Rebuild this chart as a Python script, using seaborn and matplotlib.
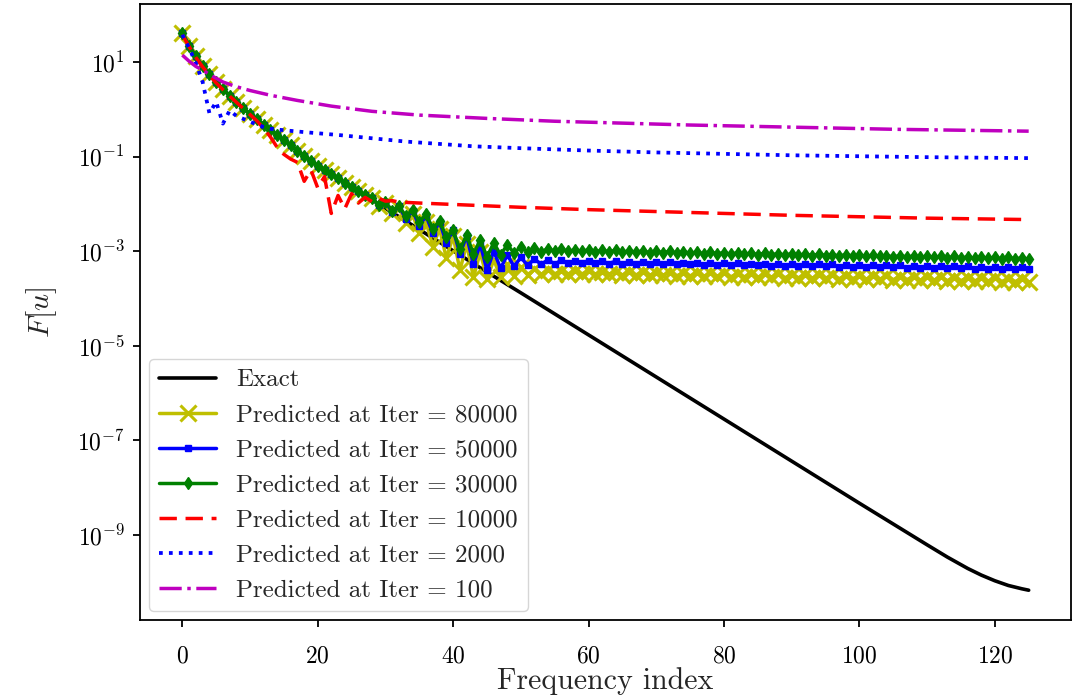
import numpy as np
import matplotlib
matplotlib.use("Agg")
import matplotlib.pyplot as plt
import seaborn as sns
from matplotlib.ticker import NullLocator

# values in decades (log10 of F[u])
idx = list(range(126))

exact_x = [0, 1, 2, 3, 4, 5, 6, 7, 8, 9, 10, 11, 12, 13, 14, 15, 16, 17, 18, 19,
           20, 22, 24, 26, 28, 30, 35, 40, 45, 50, 60, 70, 80, 90, 100, 105, 110,
           113, 116, 118, 120, 122, 124, 125]
exact_log = [1.62, 1.35, 1.12, 0.92, 0.74, 0.58, 0.43, 0.29, 0.16, 0.03, -0.10,
             -0.21, -0.32, -0.43, -0.54, -0.65, -0.76, -0.87, -0.98, -1.09,
             -1.19, -1.37, -1.55, -1.73, -1.91, -2.09, -2.54, -2.99, -3.44, -3.88,
             -4.77, -5.66, -6.55, -7.44, -8.33, -8.77, -9.21, -9.47, -9.71, -9.85,
             -9.97, -10.07, -10.14, -10.17]

head = [1.62, 1.35, 1.12, 0.92, 0.74, 0.58, 0.43, 0.29, 0.16, 0.03,
        -0.10, -0.21, -0.32, -0.43, -0.54, -0.65, -0.76, -0.87, -0.98, -1.09,
        -1.19, -1.28, -1.37, -1.46, -1.55, -1.64, -1.73, -1.82]

it80000_log = head + [
    -1.88, -2.05, -1.97, -2.20, -2.08, -2.40, -2.22, -2.62, -2.38, -2.90,   # 28-37
    -2.52, -3.15, -2.68, -3.40, -2.85, -3.55, -3.02, -3.58, -3.18, -3.55,   # 38-47
    -3.28, -3.52, -3.34, -3.50, -3.38, -3.49, -3.40, -3.48, -3.41, -3.48,   # 48-57
    -3.42, -3.48, -3.42, -3.49, -3.43, -3.49, -3.43, -3.50, -3.44, -3.50,   # 58-67
    -3.44, -3.51, -3.45, -3.51, -3.45, -3.52, -3.46, -3.52, -3.46, -3.53,   # 68-77
    -3.47, -3.53, -3.47, -3.54, -3.48, -3.54, -3.48, -3.55, -3.49, -3.55,   # 78-87
    -3.49, -3.56, -3.50, -3.56, -3.50, -3.57, -3.51, -3.57, -3.51, -3.58,   # 88-97
    -3.52, -3.58, -3.52, -3.59, -3.53, -3.59, -3.53, -3.60, -3.54, -3.60,   # 98-107
    -3.54, -3.61, -3.55, -3.61, -3.55, -3.62, -3.56, -3.62, -3.56, -3.63,   # 108-117
    -3.57, -3.63, -3.57, -3.64, -3.58, -3.64, -3.58, -3.65]                 # 118-125

it50000_log = head + [
    -1.88, -2.03, -1.96, -2.17, -2.05, -2.31, -2.14, -2.46, -2.25, -2.62,
    -2.38, -2.82, -2.55, -3.05, -2.68, -3.28, -2.85, -3.40, -3.00, -3.36,
    -3.08, -3.32, -3.13, -3.30, -3.16, -3.28, -3.18, -3.27, -3.19, -3.25,
    -3.20, -3.25, -3.20, -3.25, -3.21, -3.26, -3.21, -3.26, -3.22, -3.27,
    -3.22, -3.27, -3.23, -3.28, -3.23, -3.28, -3.24, -3.28, -3.24, -3.29,
    -3.24, -3.29, -3.25, -3.29, -3.25, -3.30, -3.26, -3.30, -3.26, -3.31,
    -3.27, -3.31, -3.27, -3.31, -3.27, -3.32, -3.28, -3.32, -3.28, -3.33,
    -3.29, -3.33, -3.29, -3.33, -3.29, -3.34, -3.30, -3.34, -3.30, -3.35,
    -3.31, -3.35, -3.31, -3.35, -3.31, -3.36, -3.32, -3.36, -3.32, -3.37,
    -3.33, -3.37, -3.33, -3.37, -3.33, -3.38, -3.34, -3.38]

it30000_log = head + [
    -1.88, -2.02, -1.96, -2.14, -2.04, -2.26, -2.12, -2.38, -2.22, -2.52,
    -2.36, -2.70, -2.56, -2.96, -2.66, -3.06, -2.76, -3.12, -2.82, -3.08,
    -2.86, -3.04, -2.90, -3.02, -2.93, -3.01, -2.95, -3.00, -2.96, -3.00,
    -2.97, -3.00, -2.97, -3.01, -2.98, -3.01, -2.98, -3.02, -2.99, -3.02,
    -2.99, -3.03, -3.00, -3.03, -3.00, -3.04, -3.01, -3.04, -3.02, -3.05,
    -3.02, -3.05, -3.03, -3.06, -3.03, -3.06, -3.04, -3.07, -3.04, -3.07,
    -3.05, -3.08, -3.05, -3.08, -3.06, -3.09, -3.06, -3.09, -3.07, -3.10,
    -3.07, -3.10, -3.08, -3.11, -3.08, -3.11, -3.09, -3.12, -3.09, -3.12,
    -3.10, -3.13, -3.10, -3.13, -3.11, -3.14, -3.11, -3.14, -3.12, -3.15,
    -3.12, -3.15, -3.13, -3.16, -3.13, -3.16, -3.14, -3.17]

it10000_x = list(range(33)) + [35, 40, 50, 60, 70, 80, 90, 100, 110, 125]
it10000_log = [1.58, 1.33, 1.10, 0.90, 0.72, 0.56, 0.42, 0.28, 0.15, 0.02,
               -0.11, -0.24, -0.40, -0.58, -0.80, -0.95, -1.05, -1.12, -1.52, -1.28,
               -1.66, -1.42, -2.20, -1.82, -2.10, -1.78, -1.98, -1.86, -1.95, -1.88,
               -1.94, -1.93, -1.96, -1.98, -2.01, -2.07, -2.12, -2.16, -2.20, -2.24,
               -2.27, -2.30, -2.33]

it2000_x = [0, 1, 2, 3, 4, 5, 6, 7, 8, 9, 10, 11, 12, 13, 15, 18, 23, 28, 33, 38,
            43, 50, 60, 70, 80, 90, 100, 110, 125]
it2000_log = [1.58, 1.30, 0.98, 0.58, -0.08, 0.16, -0.30, -0.02, -0.14, -0.20,
              -0.26, -0.32, -0.37, -0.41, -0.44, -0.48, -0.54, -0.61, -0.68, -0.73,
              -0.78, -0.82, -0.87, -0.91, -0.94, -0.97, -0.99, -1.01, -1.03]

it100_x = [0, 1, 2, 3, 4, 5, 6, 8, 10, 13, 17, 22, 28, 35, 45, 55, 65, 75, 85, 95,
           105, 115, 125]
it100_log = [1.15, 1.02, 0.91, 0.83, 0.74, 0.66, 0.58, 0.48, 0.40, 0.30, 0.19, 0.07,
             -0.04, -0.12, -0.19, -0.25, -0.29, -0.33, -0.36, -0.39, -0.42, -0.44,
             -0.46]

sns.set_style("ticks")
plt.rcParams['font.family'] = 'serif'
plt.rcParams['font.serif'] = ['cmr10']
plt.rcParams['mathtext.fontset'] = 'cm'
plt.rcParams['axes.formatter.use_mathtext'] = True
plt.rcParams['axes.unicode_minus'] = False

fig = plt.figure(figsize=(10.76, 6.98), dpi=100)
ax = fig.add_axes([140 / 1076, 78 / 698, 931 / 1076, 616 / 698])

def pw(v):
    return 10 ** np.array(v)

sns.lineplot(x=exact_x, y=pw(exact_log), color='k', lw=2.6, label='Exact',
             estimator=None, sort=False, ax=ax)
sns.lineplot(x=idx, y=pw(it80000_log), color='y', lw=2.5, marker='x', ms=12,
             mec='y', mew=2.2, label='Predicted at Iter = 80000',
             estimator=None, sort=False, ax=ax)
sns.lineplot(x=idx, y=pw(it50000_log), color='b', lw=2.5, marker='s', ms=5,
             mec='b', mew=1, label='Predicted at Iter = 50000',
             estimator=None, sort=False, ax=ax)
sns.lineplot(x=idx, y=pw(it30000_log), color='g', lw=2.5, marker='d', ms=6,
             mec='g', mew=1, label='Predicted at Iter = 30000',
             estimator=None, sort=False, ax=ax)
sns.lineplot(x=it10000_x, y=pw(it10000_log), color='r', lw=2.5,
             linestyle=(0, (5, 2.5)),
             label='Predicted at Iter = 10000', estimator=None, sort=False, ax=ax)
sns.lineplot(x=it2000_x, y=pw(it2000_log), color='b', lw=2.7, linestyle=':',
             label='Predicted at Iter = 2000', estimator=None, sort=False, ax=ax)
sns.lineplot(x=it100_x, y=pw(it100_log), color='m', lw=2.5, linestyle='-.',
             label='Predicted at Iter = 100', estimator=None, sort=False, ax=ax)

ax.set_yscale('log')
ax.set_xlim(-6.25, 131.25)
ax.set_ylim(10 ** -10.8, 10 ** 2.23)
ax.set_yticks([1e1, 1e-1, 1e-3, 1e-5, 1e-7, 1e-9])
ax.yaxis.set_minor_locator(NullLocator())
ax.set_xticks([0, 20, 40, 60, 80, 100, 120])

for s in ax.spines.values():
    s.set_color('k')
    s.set_linewidth(1.3)
ax.tick_params(axis='both', which='major', labelsize=17, length=5, width=1.3,
               color='k', labelcolor='k')
ax.tick_params(axis='x', pad=13)
ax.tick_params(axis='y', pad=6)

ax.set_xlabel('Frequency index', fontsize=21.5, labelpad=0)
ax.set_ylabel('$F[u]$', fontsize=21.5, labelpad=13)

ax.legend(loc='lower left', fontsize=18, handlelength=2.3, framealpha=0.8,
          edgecolor='0.8', borderaxespad=0.35)

fig.savefig('out.png', dpi=100)
